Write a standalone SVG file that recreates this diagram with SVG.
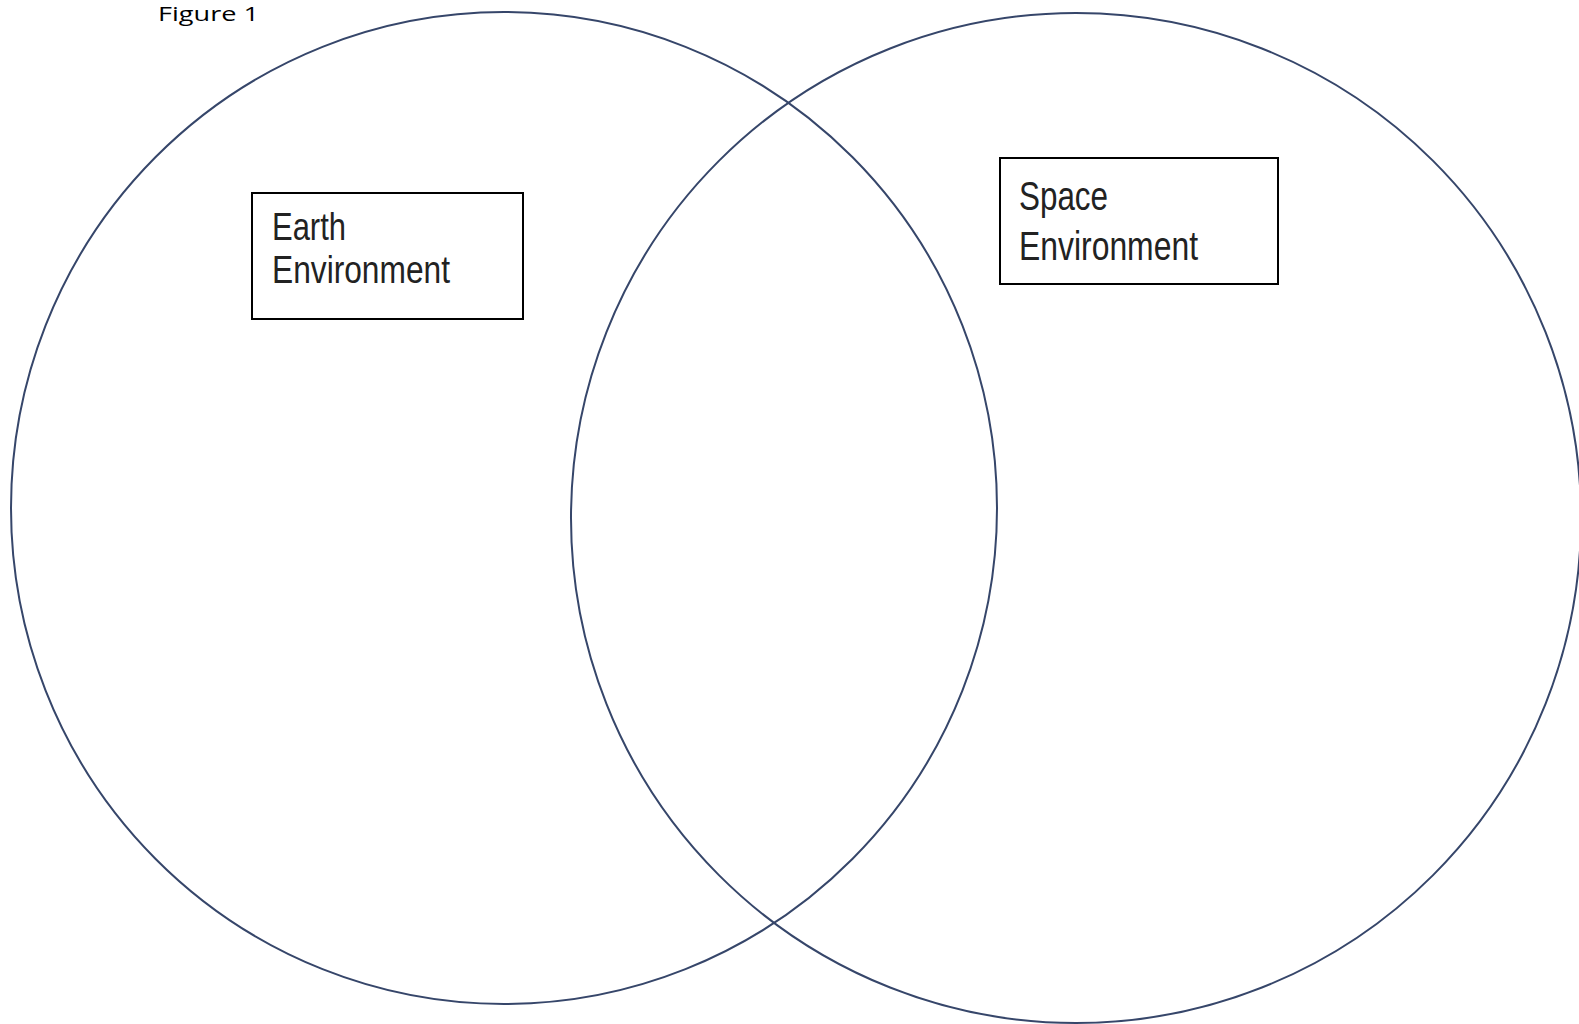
<svg xmlns="http://www.w3.org/2000/svg" width="1579" height="1024" viewBox="0 0 1579 1024">
  <style>
    .circ { fill: none; stroke: #36466a; stroke-width: 2; }
    .box { fill: #ffffff; stroke: #000000; stroke-width: 2; }
    .lbl { font-family: "Liberation Sans", Arial, sans-serif; fill: #222222; }
    .cap { font-family: "Open Sans", "Liberation Sans", sans-serif; fill: #000000; font-size: 20px; }
  </style>
  <rect width="1579" height="1024" fill="#ffffff"/>
  <text class="cap" x="158" y="21" textLength="101" lengthAdjust="spacingAndGlyphs">Figure 1</text>
  <g id="connectors"></g>
  <g id="earth-circle">
    <ellipse class="circ" cx="504" cy="508" rx="493" ry="496"/>
  </g>
  <g id="space-circle">
    <ellipse class="circ" cx="1076" cy="518" rx="505" ry="505"/>
  </g>
  <g id="earth-label">
    <rect class="box" x="252" y="193" width="271" height="126"/>
    <text class="lbl" x="272" y="240" font-size="38" textLength="74" lengthAdjust="spacingAndGlyphs">Earth</text>
    <text class="lbl" x="272" y="283" font-size="38" textLength="178" lengthAdjust="spacingAndGlyphs">Environment</text>
  </g>
  <g id="space-label">
    <rect class="box" x="1000" y="158" width="278" height="126"/>
    <text class="lbl" x="1019" y="210" font-size="41" textLength="89" lengthAdjust="spacingAndGlyphs">Space</text>
    <text class="lbl" x="1019" y="260" font-size="41" textLength="179" lengthAdjust="spacingAndGlyphs">Environment</text>
  </g>
</svg>
